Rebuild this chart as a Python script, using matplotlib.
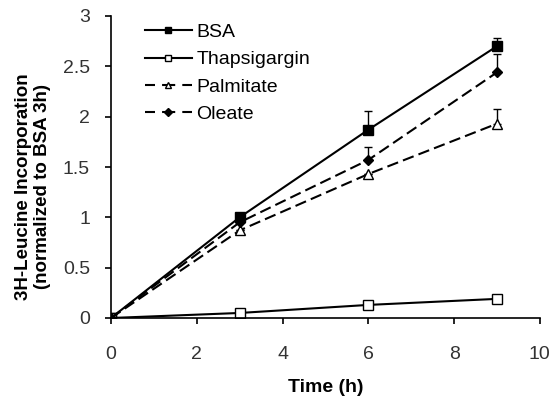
import matplotlib
matplotlib.use('agg')
import matplotlib.pyplot as plt
from matplotlib.lines import Line2D
import numpy as np

plt.rcParams['font.family'] = ['Liberation Sans', 'DejaVu Sans']

time_h = [0, 3, 6, 9]
bsa = [0, 1.0, 1.87, 2.70]
bsa_err = [0, 0.03, 0.19, 0.08]
thaps = [0, 0.05, 0.13, 0.19]
thaps_err = [0, 0, 0, 0]
palm = [0, 0.87, 1.43, 1.93]
palm_err = [0, 0, 0, 0.15]
oleate = [0, 0.95, 1.57, 2.44]
oleate_err = [0, 0, 0.13, 0.18]

labels = ['BSA', 'Thapsigargin', 'Palmitate', 'Oleate']

fig = plt.figure(figsize=(5.52, 4), dpi=100)
ax = fig.add_axes([0.201, 0.205, 0.777, 0.755])

dash = (0, (5.5, 2.5))
zeros = np.zeros(4)

ax.errorbar(time_h, bsa, yerr=[zeros, bsa_err], color='black', lw=1.5,
            marker='s', mfc='black', mec='black', ms=7, capsize=3, elinewidth=1,
            capthick=1)
ax.errorbar(time_h, thaps, yerr=[zeros, thaps_err], color='black', lw=1.5,
            marker='s', mfc='white', mec='black', ms=7, capsize=3, elinewidth=1,
            capthick=1)
ax.errorbar(time_h, palm, yerr=[zeros, palm_err], color='black', lw=1.5,
            ls=dash, marker='^', mfc='white', mec='black', ms=7, capsize=3,
            elinewidth=1, capthick=1)
ax.errorbar(time_h, oleate, yerr=[zeros, oleate_err], color='black', lw=1.5,
            ls=dash, marker='D', mfc='black', mec='black', ms=5.5, capsize=3,
            elinewidth=1, capthick=1)

# legend handles without error bars, smaller markers
leg_dash = (0, (4.8, 3.4, 6.3, 3.4))
handles = [
    Line2D([], [], color='black', lw=1.5, marker='s', mfc='black', mec='black', ms=5),
    Line2D([], [], color='black', lw=1.5, marker='s', mfc='white', mec='black', ms=5),
    Line2D([], [], color='black', lw=1.5, ls=leg_dash, marker='^', mfc='white', mec='black', ms=5),
    Line2D([], [], color='black', lw=1.5, ls=leg_dash, marker='D', mfc='black', mec='black', ms=4),
]
ax.legend(handles, labels, loc='upper left', bbox_to_anchor=(0.079, 0.975),
          frameon=False, fontsize=14, handlelength=2.4, handletextpad=0.25,
          labelspacing=0.5, borderpad=0, borderaxespad=0)

ax.set_xlim(0, 10)
ax.set_ylim(0, 3)
ax.set_xticks([0, 2, 4, 6, 8, 10])
ax.set_yticks([0, 0.5, 1, 1.5, 2, 2.5, 3])
ax.set_yticklabels(['0', '0.5', '1', '1.5', '2', '2.5', '3'])
ax.spines['top'].set_visible(False)
ax.spines['right'].set_visible(False)
ax.spines['left'].set_linewidth(1.2)
ax.spines['bottom'].set_linewidth(1.2)
ax.tick_params(direction='out', length=4, width=1.2, labelsize=14,
               labelcolor='#333333')
ax.tick_params(axis='y', pad=11)
ax.tick_params(axis='x', pad=16)
ax.set_xlabel('Time (h)', fontsize=14, fontweight='bold', labelpad=12)
ax.set_ylabel('3H-Leucine Incorporation\n(normalized to BSA 3h)', fontsize=13.5,
              fontweight='bold', linespacing=1.15)
ax.yaxis.set_label_coords(-0.14, 0.434)

fig.savefig('out.png', dpi=100)
